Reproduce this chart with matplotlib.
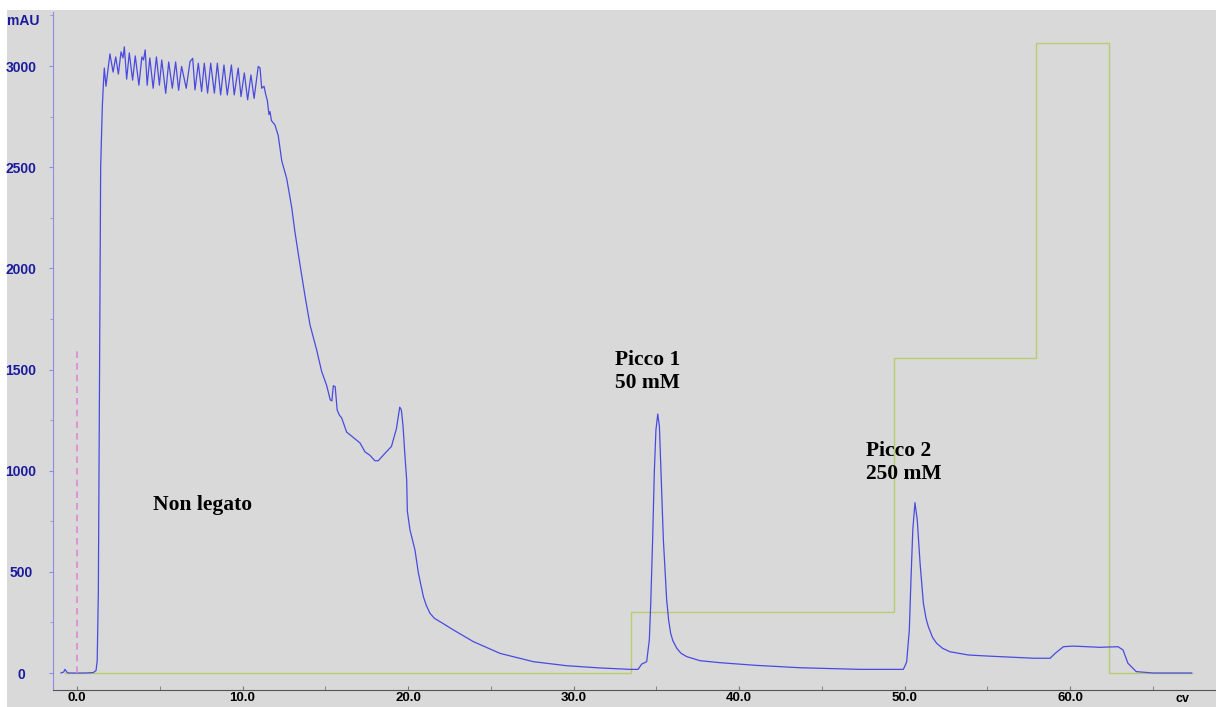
import matplotlib
matplotlib.use("Agg")
import matplotlib.pyplot as plt
from matplotlib.patches import Rectangle
from matplotlib.ticker import MultipleLocator

# UV 280 nm (mAU) vs column volumes
uv_x = [-0.97, -0.8, -0.73, -0.6, -0.5, 0.5, 0.98, 1.15, 1.22, 1.29, 1.36, 1.43, 1.53, 1.6,
        1.65, 1.75, 1.99, 2.18, 2.34, 2.5, 2.66, 2.78, 2.86, 3.0, 3.16, 3.36, 3.52, 3.74,
        3.92, 4.02, 4.12, 4.24, 4.4, 4.6, 4.8, 4.98, 5.12, 5.36, 5.54, 5.76, 5.96, 6.14,
        6.32, 6.6, 6.83, 6.99, 7.13, 7.33, 7.53, 7.69, 7.89, 8.08, 8.3, 8.48, 8.68, 8.88,
        9.08, 9.33, 9.5, 9.74, 9.91, 10.11, 10.31, 10.51, 10.7, 10.95, 11.06, 11.16, 11.3,
        11.4, 11.5, 11.6, 11.66, 11.75, 11.96,
        12.16, 12.37, 12.67, 12.97, 13.17, 13.47, 13.78, 14.08, 14.48, 14.78, 15.09, 15.3,
        15.4, 15.49, 15.6, 15.72, 15.85, 15.99, 16.29, 16.7, 17.1, 17.4, 17.7, 18.0, 18.2,
        18.6, 19.0, 19.3, 19.5, 19.6, 19.7, 19.82, 19.92, 19.96, 20.12, 20.42, 20.63, 20.93,
        21.1, 21.33, 21.6, 21.93, 22.74, 23.95, 25.56, 27.57, 29.59, 31.6, 33.4, 33.9, 34.12,
        34.42, 34.58, 34.66, 34.78, 34.88, 34.98, 35.09, 35.19, 35.29, 35.43, 35.63, 35.75,
        35.87, 36.0, 36.24, 36.5, 36.84, 37.64, 38.85, 41.0, 43.7, 47.3, 49.93, 50.13, 50.29,
        50.39, 50.5, 50.63, 50.77, 50.94, 51.14, 51.3, 51.44, 51.7, 51.94, 52.3, 52.75, 53.86,
        54.96, 57.8, 58.8, 59.1, 59.6, 60.2, 61.8, 62.9, 63.2, 63.5, 64.0, 65.0, 67.35]
uv_y = [0, 5, 18, 3, 0, 0, 2, 12, 60, 400, 1500, 2500, 2800, 2920,
        2990, 2900, 3060, 2970, 3045, 2960, 3070, 3040, 3095, 2935, 3065, 2930, 3050, 2905,
        3045, 3030, 3080, 2905, 3040, 2890, 3045, 2905, 3030, 2865, 3020, 2890, 3020, 2880,
        2998, 2890, 3022, 3038, 2882, 3014, 2874, 3014, 2866, 3014, 2866, 3014, 2857, 3005,
        2857, 3005, 2857, 2990, 2849, 2966, 2833, 2956, 2840, 2998, 2990, 2890, 2900,
        2860, 2830, 2760, 2775, 2730, 2709,
        2656, 2532, 2444, 2303, 2179, 2020, 1862, 1720, 1597, 1491, 1420, 1350,
        1345, 1420, 1415, 1300, 1275, 1261, 1191, 1164, 1137, 1093, 1076, 1049, 1049,
        1085, 1120, 1208, 1314, 1300, 1220, 1067, 954, 800, 707, 608, 493, 377,
        335, 295, 270, 254, 213, 155, 97, 56, 36, 25, 18, 18, 44,
        56, 163, 328, 657, 987, 1201, 1280, 1218, 987, 657, 361, 260,
        196, 160, 122, 97, 81, 61, 51, 38, 26, 18, 18, 55, 213,
        460, 707, 842, 756, 542, 345, 270, 229, 175, 147, 122, 105, 89,
        84, 73, 73, 97, 130, 133, 127, 130, 114, 48, 7, 0, 0]

# gradient steps (drawn on the mAU scale)
grad_x = [-0.7, 33.5, 49.35, 57.95, 62.35, 67.35]
grad_y = [0, 303, 1557, 3114, 0, 0]

xticks = [0, 10, 20, 30, 40, 50, 60]
xtick_labels = ["0.0", "10.0", "20.0", "30.0", "40.0", "50.0", "60.0"]
yticks = [0, 500, 1000, 1500, 2000, 2500, 3000]

fig = plt.figure(figsize=(12.16, 7.07), dpi=100, facecolor="white")
fig.patches.append(Rectangle((7 / 1216, 0), 1, (707 - 10) / 707, transform=fig.transFigure,
                             facecolor="#d9d9d9", edgecolor="none", zorder=-10))
ax = fig.add_axes([53 / 1216, 17 / 707, (1215 - 53) / 1216, (690 - 12) / 707])
ax.patch.set_alpha(0)

ax.plot(grad_x, grad_y, drawstyle="steps-post", color="#b9cc72", lw=1.0)
ax.plot(uv_x, uv_y, color="#4a4ae0", lw=0.9)
ax.plot([0, 0], [0, 1600], color="#dc8ad4", lw=1.2, ls=(0, (4, 3)))

ax.set_xlim(-1.45, 68.76)
ax.set_ylim(-84, 3267)

for s in ["top", "right"]:
    ax.spines[s].set_visible(False)
ax.spines["left"].set_color("#8c8ce6")
ax.spines["bottom"].set_color("#555555")

ax.set_xticks(xticks)
ax.set_xticklabels(xtick_labels, fontweight="bold", fontsize=9.5, family="Liberation Sans")
ax.xaxis.set_minor_locator(MultipleLocator(5))
ax.tick_params(axis="x", which="both", direction="in", length=3, color="#777777", pad=1.5)

ax.set_yticks(yticks)
ax.set_yticklabels([str(v) for v in yticks], fontweight="bold", fontsize=10,
                   family="Liberation Sans", color="#1a1a9c", ha="center")
ax.yaxis.set_minor_locator(MultipleLocator(250))
ax.tick_params(axis="y", which="major", length=3, color="#8c8ce6", pad=20)
ax.tick_params(axis="y", which="minor", length=2, color="#8c8ce6")

fig.text(23 / 1216, 1 - 21 / 707, "mAU", ha="center", va="center", fontsize=10,
         fontweight="bold", color="#1a1a9c", family="Liberation Sans")
fig.text(1183 / 1216, 1 - 699 / 707, "cv", ha="center", va="center", fontsize=9,
         fontweight="bold", color="black", family="Liberation Sans")

# annotations
serif = dict(family="Liberation Serif", fontweight="bold", fontsize=15.5, color="black")
ax.text(4.6, 830, "Non legato", ha="left", va="center", **serif)
ax.text(32.5, 1595, "Picco 1\n50 mM", ha="left", va="top", linespacing=1.15, **serif)
ax.text(47.7, 1145, "Picco 2\n250 mM", ha="left", va="top", linespacing=1.15, **serif)

fig.savefig("out.png", dpi=100, facecolor=fig.get_facecolor())
